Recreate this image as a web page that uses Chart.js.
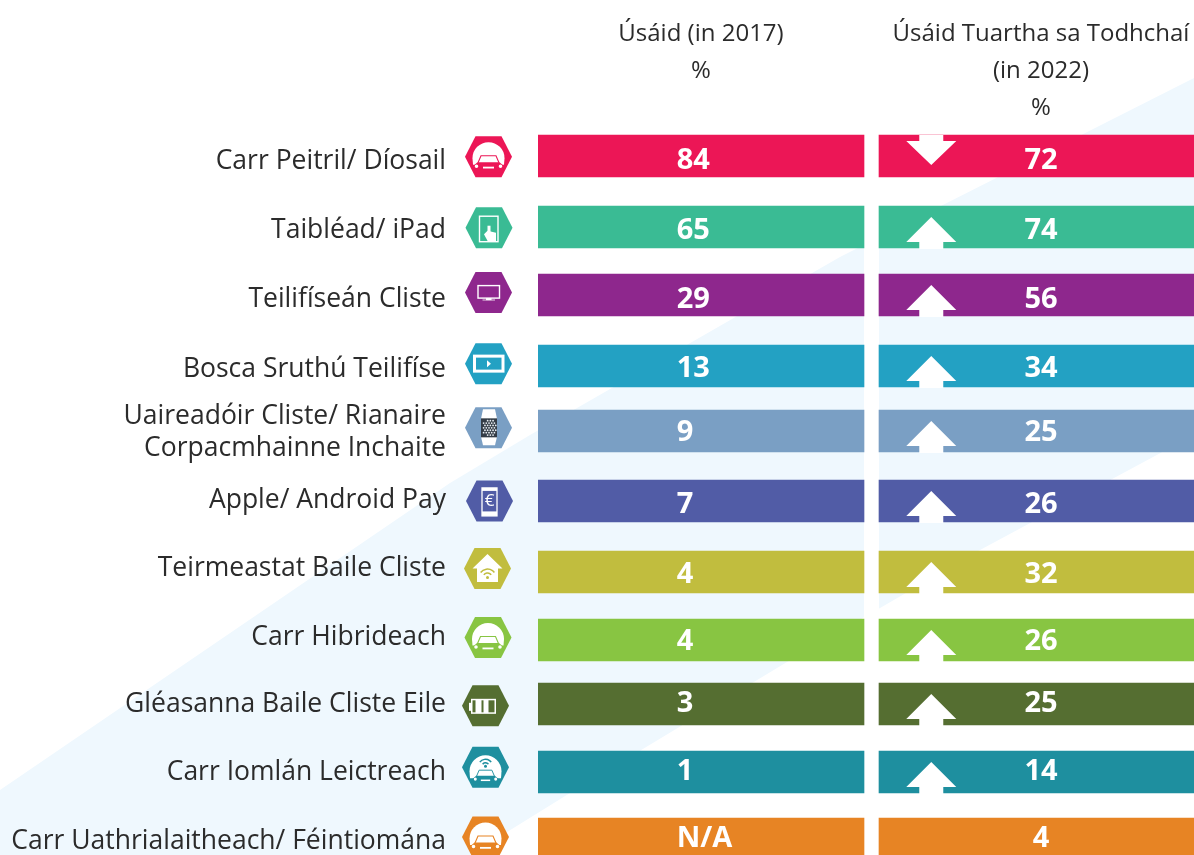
<!DOCTYPE html>
<html lang="ga">
  <head>
    <meta charset="UTF-8" />
    <title>Úsáid gléasanna 2017 agus 2022</title>
    <script src="https://cdn.jsdelivr.net/npm/chart.js@4"></script>
    <style>
      html, body { margin: 0; padding: 0; background: #fff; overflow: hidden; }
      canvas { display: block; }
    </style>
  </head>
  <body>
    <canvas id="myChart" width="1194" height="855"></canvas>

    <script>
      // the values
      const categories = [
        'Carr Peitril/ Díosail',
        'Taibléad/ iPad',
        'Teilifíseán Cliste',
        'Bosca Sruthú Teilifíse',
        ['Uaireadóir Cliste/ Rianaire', 'Corpacmhainne Inchaite'],
        'Apple/ Android Pay',
        'Teirmeastat Baile Cliste',
        'Carr Hibrideach',
        'Gléasanna Baile Cliste Eile',
        'Carr Iomlán Leictreach',
        'Carr Uathrialaitheach/ Féintiomána'
      ];
      const usage2017 = ['84', '65', '29', '13', '9', '7', '4', '4', '3', '1', 'N/A'];
      const usage2022 = ['72', '74', '56', '34', '25', '26', '32', '26', '25', '14', '4'];
      const header2017 = ['Úsáid (in 2017)', '%'];
      const header2022 = ['Úsáid Tuartha sa Todhchaí', '(in 2022)', '%'];

      // layout: the rows are not evenly spaced in the original, so y is a linear
      // scale in "row" units and x is a percentage of the area right of the icons
      const rowPositions = [0, 1.0395, 2.0351, 3.0747, 4.0264, 5.0512, 6.0908, 7.0864, 8.0234, 9.019, 10];
      const labelPositions = [0.08, 1.09, 2.1, 3.13, 4.05, 5.04, 6.04, 7.05, 8.03, 9.03, 10.03];
      const valuePositions = [0.07, 1.1, 2.1, 3.11, 4.05, 5.1, 6.13, 7.11, 8.02, 9.01, 10.0];
      const iconPositions = [0.01, 1.05, 2, 3.04, 3.98, 5.05, 6.04, 7.05, 8.05, 8.95, 9.97];
      const iconX = [488.5, 489, 488.5, 488.5, 488.5, 489.5, 487.5, 488, 485.5, 485.5, 485.5];
      const iconTypes = ['car', 'tablet', 'tv', 'video', 'watch', 'phone', 'house', 'car', 'battery', 'wifiCar', 'car'];
      const barColors = ['#ec1656', '#3abb94', '#8e278d', '#23a1c3', '#7a9fc4', '#515ca6',
        '#c1bd3e', '#88c542', '#556e31', '#1e8f9f', '#e78424'];

      const column2017 = [0, 49.695];
      const column2022 = [51.982, 100];
      const arrowAt = 59.95;
      const value2017At = 21.15;
      const value2022At = 76.68;

      const textColor = '#2b2b2b';
      const bgBlue = '#eff8fe';

      function spanData(column) {
        return rowPositions.map(y => ({ x: column, y: y }));
      }

      // pale diagonal band behind everything
      const backgroundBand = {
        id: 'backgroundBand',
        beforeDraw(chart) {
          const ctx = chart.ctx;
          const x = chart.scales.x;
          ctx.save();
          ctx.fillStyle = bgBlue;
          ctx.beginPath();
          ctx.moveTo(0, 790);
          ctx.lineTo(450, 483);
          ctx.lineTo(530, 435);
          ctx.lineTo(840, 257);
          ctx.lineTo(1194, 78);
          ctx.lineTo(1194, 435);
          ctx.lineTo(980, 550);
          ctx.lineTo(787, 662);
          ctx.lineTo(570, 793);
          ctx.lineTo(470, 855);
          ctx.lineTo(0, 855);
          ctx.closePath();
          ctx.fill();
          // white gutter between the two columns
          ctx.fillStyle = '#fff';
          const l = x.getPixelForValue(column2017[1]);
          ctx.fillRect(l, 0, x.getPixelForValue(column2022[0]) - l, 855);
          ctx.restore();
        }
      };

      function drawArrow(ctx, cx, top, bottom, up) {
        ctx.fillStyle = '#fff';
        ctx.beginPath();
        if (up) {
          ctx.moveTo(cx, top + 11);
          ctx.lineTo(cx + 25, top + 36);
          ctx.lineTo(cx + 12, top + 36);
          ctx.lineTo(cx + 12, bottom + 1);
          ctx.lineTo(cx - 12, bottom + 1);
          ctx.lineTo(cx - 12, top + 36);
          ctx.lineTo(cx - 25, top + 36);
        } else {
          ctx.moveTo(cx - 12, top);
          ctx.lineTo(cx + 12, top);
          ctx.lineTo(cx + 12, top + 6);
          ctx.lineTo(cx + 25, top + 6);
          ctx.lineTo(cx, top + 30);
          ctx.lineTo(cx - 25, top + 6);
          ctx.lineTo(cx - 12, top + 6);
        }
        ctx.closePath();
        ctx.fill();
      }

      function hexagon(ctx) {
        ctx.beginPath();
        ctx.moveTo(-13, -20.5);
        ctx.lineTo(13, -20.5);
        ctx.lineTo(23.5, 0);
        ctx.lineTo(13, 20.5);
        ctx.lineTo(-13, 20.5);
        ctx.lineTo(-23.5, 0);
        ctx.closePath();
        ctx.fill();
      }

      function wifiArcs(ctx, cy, color, radii) {
        ctx.strokeStyle = color;
        ctx.lineWidth = 1.5;
        radii.forEach(r => {
          ctx.beginPath();
          ctx.arc(0, cy, r, -Math.PI * 0.8, -Math.PI * 0.2);
          ctx.stroke();
        });
        ctx.fillStyle = color;
        ctx.beginPath();
        ctx.arc(0, cy, 1.5, 0, Math.PI * 2);
        ctx.fill();
      }

      // dome with a car in front of it, used for all the car rows
      function carGlyph(ctx, color, wired) {
        const s = wired ? 0.85 : 1;
        ctx.fillStyle = '#fff';
        ctx.beginPath();
        ctx.arc(0, wired ? 4 : 1.5, 16, Math.PI, 0);
        ctx.lineTo(15.5, wired ? 11 : 8);
        ctx.lineTo(-15.5, wired ? 11 : 8);
        ctx.closePath();
        ctx.fill();
        ctx.save();
        ctx.translate(0, wired ? 8 : 5);
        ctx.scale(s, s);
        // windscreen
        ctx.strokeStyle = color;
        ctx.lineWidth = 1.1;
        ctx.beginPath();
        ctx.moveTo(-10.5, 1);
        ctx.lineTo(-7.5, -6);
        ctx.lineTo(7.5, -6);
        ctx.lineTo(10.5, 1);
        ctx.stroke();
        // body, kept inside the hexagon
        ctx.fillStyle = color;
        ctx.beginPath();
        ctx.moveTo(-11, 0.5);
        ctx.lineTo(11, 0.5);
        ctx.lineTo(15, 4);
        ctx.lineTo(14, 11);
        ctx.lineTo(-14, 11);
        ctx.lineTo(-15, 4);
        ctx.closePath();
        ctx.fill();
        ctx.fillStyle = '#fff';
        ctx.fillRect(-5.5, 5, 11, 1.8);
        ctx.beginPath();
        ctx.arc(-12, 4.5, 1.8, 0, Math.PI * 2);
        ctx.arc(12, 4.5, 1.8, 0, Math.PI * 2);
        ctx.fill();
        ctx.restore();
        if (wired) wifiArcs(ctx, -1, color, [3.5, 7]);
      }

      const glyphs = {
        car(ctx, color) { carGlyph(ctx, color, false); },
        wifiCar(ctx, color) { carGlyph(ctx, color, true); },
        tablet(ctx) {
          ctx.strokeStyle = '#fff';
          ctx.fillStyle = '#fff';
          ctx.lineWidth = 1.4;
          ctx.strokeRect(-9.5, -11.5, 18.5, 25.5);
          ctx.fillRect(-1.5, -2, 3, 9);
          ctx.beginPath();
          ctx.moveTo(-1.5, 3);
          ctx.lineTo(7, 5);
          ctx.lineTo(7, 14);
          ctx.lineTo(-1, 14);
          ctx.lineTo(-5, 6.5);
          ctx.closePath();
          ctx.fill();
        },
        tv(ctx) {
          ctx.strokeStyle = '#fff';
          ctx.fillStyle = '#fff';
          ctx.lineWidth = 1.4;
          ctx.strokeRect(-10.5, -7, 21.5, 12.5);
          ctx.fillRect(-2.5, 5.5, 5.5, 2);
          ctx.fillRect(-6, 7, 12.5, 0.8);
        },
        video(ctx) {
          ctx.strokeStyle = '#fff';
          ctx.fillStyle = '#fff';
          ctx.lineWidth = 3;
          ctx.strokeRect(-14, -7.5, 28.5, 15);
          ctx.beginPath();
          ctx.moveTo(-1.5, -3.5);
          ctx.lineTo(2.5, 0);
          ctx.lineTo(-1.5, 3.5);
          ctx.closePath();
          ctx.fill();
        },
        watch(ctx) {
          ctx.fillStyle = '#fff';
          ctx.beginPath();
          ctx.moveTo(-5.5, -18.5);
          ctx.lineTo(6.5, -18.5);
          ctx.lineTo(8.5, -9);
          ctx.lineTo(8.5, 9);
          ctx.lineTo(6.5, 17.5);
          ctx.lineTo(-5.5, 17.5);
          ctx.lineTo(-7.5, 9);
          ctx.lineTo(-7.5, -9);
          ctx.closePath();
          ctx.fill();
          ctx.fillStyle = '#333c46';
          ctx.fillRect(-7.5, -9.5, 16, 19);
          ctx.fillStyle = '#e8edf2';
          for (let r = -3; r <= 3; r++) {
            const cols = Math.abs(r) === 3 ? 1 : 2;
            for (let c = -cols; c <= cols; c++) {
              ctx.beginPath();
              ctx.arc(0.5 + c * 2.7 + (r % 2 ? 1.35 : 0), r * 2.4, 0.9, 0, Math.PI * 2);
              ctx.fill();
            }
          }
        },
        phone(ctx) {
          ctx.strokeStyle = '#fff';
          ctx.fillStyle = '#fff';
          ctx.lineWidth = 1.3;
          ctx.strokeRect(-7.5, -13, 15, 28);
          ctx.fillRect(-7.5, -13, 15, 3);
          ctx.fillRect(-7.5, 10.5, 15, 4.5);
          ctx.font = '17px "Open Sans"';
          ctx.textAlign = 'center';
          ctx.textBaseline = 'middle';
          ctx.fillText('€', 0, 0);
        },
        house(ctx, color) {
          ctx.fillStyle = '#fff';
          ctx.beginPath();
          ctx.moveTo(0, -14.5);
          ctx.lineTo(15, 0);
          ctx.lineTo(10.5, 0);
          ctx.lineTo(10.5, 13.5);
          ctx.lineTo(-10.5, 13.5);
          ctx.lineTo(-10.5, 0);
          ctx.lineTo(-15, 0);
          ctx.closePath();
          ctx.fill();
          wifiArcs(ctx, 9, color, [4.5, 8.5]);
        },
        battery(ctx, color) {
          ctx.fillStyle = '#fff';
          ctx.fillRect(-16.5, -3, 2.5, 8);
          ctx.fillRect(-14.5, -7, 25, 15);
          ctx.fillStyle = color;
          ctx.fillRect(-13, -5.5, 3, 12);
          ctx.fillRect(-4, -5.5, 2, 12);
          ctx.fillRect(3, -5.5, 6, 12);
        }
      };

      const overlays = {
        id: 'overlays',
        afterDatasetsDraw(chart) {
          const ctx = chart.ctx;
          const { x, y } = chart.scales;
          const bars = chart.getDatasetMeta(1).data;
          ctx.save();

          // column headings
          ctx.fillStyle = textColor;
          ctx.font = '24px "Open Sans"';
          ctx.textAlign = 'center';
          ctx.textBaseline = 'middle';
          header2017.forEach((t, i) => ctx.fillText(t, 701, 34 + i * 37));
          header2022.forEach((t, i) => ctx.fillText(t, 1041, 34 + i * 37));

          categories.forEach((cat, i) => {
            const color = barColors[i];
            // arrow points the way 2022 moved against 2017, none when 2017 is N/A
            const was = Number(usage2017[i]);
            const now = Number(usage2022[i]);
            if (!isNaN(was)) {
              const bar = bars[i];
              const half = bar.height / 2;
              drawArrow(ctx, x.getPixelForValue(arrowAt), bar.y - half, bar.y + half, now >= was);
            }

            ctx.fillStyle = '#fff';
            ctx.font = 'bold 29px "Open Sans"';
            ctx.textBaseline = 'middle';
            const ty = y.getPixelForValue(valuePositions[i]);
            ctx.textAlign = 'left';
            ctx.fillText(usage2017[i], x.getPixelForValue(value2017At), ty);
            ctx.textAlign = 'center';
            ctx.fillText(usage2022[i], x.getPixelForValue(value2022At), ty);

            ctx.save();
            ctx.translate(iconX[i], y.getPixelForValue(iconPositions[i]));
            ctx.fillStyle = color;
            hexagon(ctx);
            glyphs[iconTypes[i]](ctx, color);
            ctx.restore();
          });
          ctx.restore();
        }
      };

      new Chart(document.getElementById('myChart').getContext('2d'), {
        type: 'bar',
        data: {
          datasets: [
            { label: 'Úsáid (in 2017)', data: spanData(column2017), backgroundColor: barColors, grouped: false },
            { label: 'Úsáid Tuartha sa Todhchaí (in 2022)', data: spanData(column2022), backgroundColor: barColors, grouped: false }
          ]
        },
        options: {
          indexAxis: 'y',
          responsive: false,
          animation: false,
          events: [],
          barThickness: 42,
          layout: { padding: 0 },
          plugins: { legend: { display: false }, title: { display: false }, tooltip: { enabled: false } },
          scales: {
            x: { type: 'linear', min: 0, max: 100, display: false },
            y: {
              type: 'linear',
              reverse: true,
              offset: false,
              min: -156 / 68.3,
              max: 699 / 68.3,
              border: { display: false },
              grid: { display: false, drawTicks: false },
              ticks: {
                autoSkip: false,
                padding: 92,
                color: textColor,
                font: { family: '"Open Sans"', size: 26.5, lineHeight: 1.21 },
                callback: (value, index) => categories[index]
              },
              // the ticks carry the row names, so they sit where the names sit
              afterBuildTicks(axis) {
                axis.ticks = labelPositions.map(v => ({ value: v }));
              },
              // tick padding is also added above and below the axis, drop that
              afterFit(axis) {
                axis.width = 538;
                axis.paddingTop = 0;
                axis.paddingBottom = 0;
              }
            }
          }
        },
        plugins: [backgroundBand, overlays]
      });
    </script>
  </body>
</html>
